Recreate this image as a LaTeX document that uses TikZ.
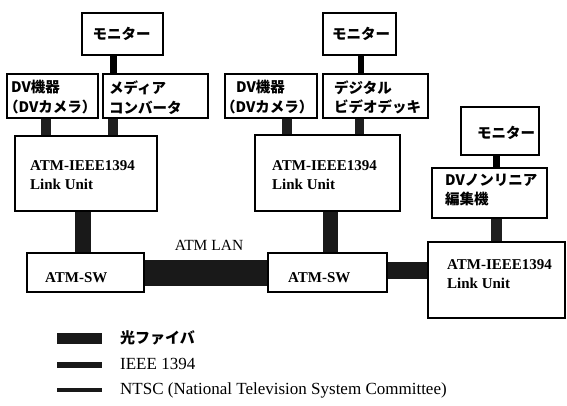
\documentclass[tikz,border=0pt]{standalone}
\usepackage{fontspec}
\setmainfont{Liberation Serif}
\newfontfamily\jp{Noto Sans CJK JP}
\begin{document}
\begin{tikzpicture}[x=1pt,y=-1pt,
  box/.style={draw=black,line width=1.4pt,fill=white,rectangle,inner sep=0pt},
  jptext/.style={inner sep=0pt,align=left,font=\jp\bfseries\fontsize{14.5}{19.5}\selectfont},
  entext/.style={inner sep=0pt,align=left,font=\bfseries\fontsize{15}{18.5}\selectfont},
  legtext/.style={inner sep=0pt,anchor=west,font=\fontsize{17}{18}\selectfont},
  ntsc/.style={draw=black,line width=7pt},
  ieee/.style={draw=black!88,line width=10pt},
  fiber/.style={draw=black!90,line width=16pt},
  swatch/.style={fill=black!90,inner sep=0pt,minimum width=45pt}]
\useasboundingbox (0,0) rectangle (567,405);

% boxes
\node[box,minimum width=81pt,minimum height=42pt] (mon1) at (122.5,34) {};
\node[box,minimum width=91pt,minimum height=44pt] (dv1) at (52.5,96) {};
\node[box,minimum width=105pt,minimum height=44pt] (media) at (155.5,96) {};
\node[box,minimum width=142pt,minimum height=75pt] (lu1) at (86,173.5) {};
\node[box,minimum width=117pt,minimum height=39pt] (sw1) at (85.5,272.5) {};

\node[box,minimum width=73pt,minimum height=42pt] (mon2) at (359.5,34) {};
\node[box,minimum width=92pt,minimum height=44pt] (dv2) at (271,96) {};
\node[box,minimum width=105pt,minimum height=44pt] (deck) at (375.5,96) {};
\node[box,minimum width=145pt,minimum height=76pt] (lu2) at (327.5,173) {};
\node[box,minimum width=119pt,minimum height=39pt] (sw2) at (327.5,272.5) {};

\node[box,minimum width=78pt,minimum height=48pt] (mon3) at (500,131) {};
\node[box,minimum width=115pt,minimum height=50pt] (nonlin) at (489.5,193) {};
\node[box,minimum width=137pt,minimum height=76pt] (lu3) at (496.5,280) {};

% connectors
\draw[ntsc] ([xshift=-42pt]media.north) -- ([xshift=-42pt]media.north |- mon1.south);
\draw[ieee] ([xshift=-6.5pt]dv1.south) -- ([xshift=-6.5pt]dv1.south |- lu1.north);
\draw[ieee] ([xshift=-43pt]media.south) -- ([xshift=-43pt]media.south |- lu1.north);
\draw[fiber] ([xshift=-3pt]lu1.south) -- ([xshift=-3pt]lu1.south |- sw1.north);

\draw[ntsc,line width=6pt] ([xshift=-14.5pt]deck.north) -- ([xshift=-14.5pt]deck.north |- mon2.south);
\draw[ieee] ([xshift=16pt]dv2.south) -- ([xshift=16pt]dv2.south |- lu2.north);
\draw[ieee,line width=9pt] ([xshift=-16pt]deck.south) -- ([xshift=-16pt]deck.south |- lu2.north);
\draw[fiber,line width=15pt] ([xshift=3pt]lu2.south) -- ([xshift=3pt]lu2.south |- sw2.north);

\draw[fiber,line width=26pt] ([yshift=-0.5pt]sw1.east) -- ([yshift=-0.5pt]sw1.east -| sw2.west);
\draw[fiber,line width=17pt] ([yshift=2pt]sw2.east) -- ([yshift=2pt]sw2.east -| lu3.west);

\draw[ntsc] ([xshift=-3.5pt]mon3.south) -- ([xshift=-3.5pt]mon3.south |- nonlin.north);
\draw[ieee,line width=11pt] ([xshift=7pt]nonlin.south) -- ([xshift=7pt]nonlin.south |- lu3.north);

% texts
\node[jptext] (t-mon1) at (121.5,33.5) {モニター};
\node[jptext,anchor=west] (t-dv1) at (11,97) {DV機器\\\hspace*{-7pt}（DVカメラ）};
\node[jptext,anchor=west] (t-media) at (109,97.5) {メディア\\コンバータ};
\node[entext,anchor=west] (t-lu1) at (30,175) {ATM-IEEE1394\\Link Unit};
\node[entext,anchor=west] (t-sw1) at (45,278) {ATM-SW};

\node[jptext] (t-mon2) at (361,33.5) {モニター};
\node[jptext,anchor=west] (t-dv2) at (221,97) {\hspace*{15pt}DV機器\\（DVカメラ）};
\node[jptext,anchor=west] (t-deck) at (334,97.5) {デジタル\\ビデオデッキ};
\node[entext,anchor=west] (t-lu2) at (272,175) {ATM-IEEE1394\\Link Unit};
\node[entext,anchor=west] (t-sw2) at (288,278) {ATM-SW};

\node[jptext] (t-mon3) at (506,133) {モニター};
\node[jptext,anchor=west] (t-nonlin) at (445,190) {DVノンリニア\\編集機};
\node[entext,anchor=west] (t-lu3) at (447,274) {ATM-IEEE1394\\Link Unit};

\node[entext,font=\fontsize{15.5}{18}\selectfont] (t-lan) at (209,245) {ATM LAN};

% legend
\node[swatch,minimum height=11pt] (lg1) at (79.5,338.5) {};
\node[swatch,minimum height=6pt] (lg2) at (79.5,364.5) {};
\node[swatch,minimum height=4pt] (lg3) at (79.5,390) {};
\node[legtext,font=\jp\bfseries\fontsize{15}{18}\selectfont] (lt1) at (120,338) {光ファイバ};
\node[legtext] (lt2) at (120,364) {IEEE 1394};
\node[legtext] (lt3) at (120,390) {NTSC (National Television System Committee)};
\end{tikzpicture}
\end{document}
